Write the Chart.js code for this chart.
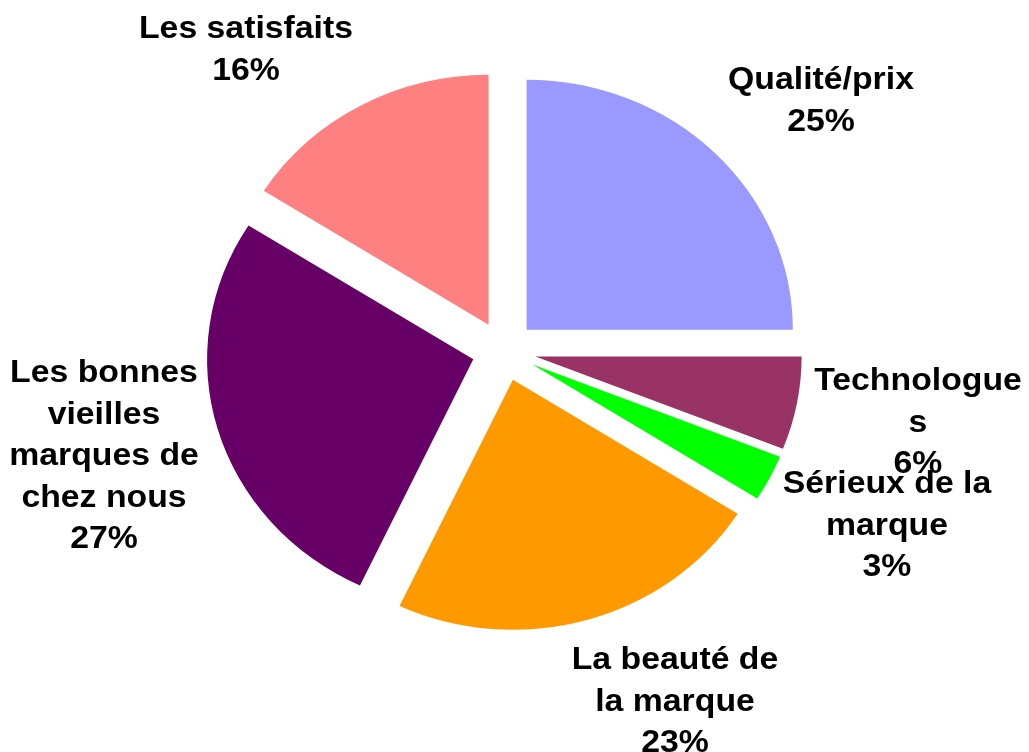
<!DOCTYPE html>
<html lang="fr">
<head>
<meta charset="utf-8">
<title>Pie chart</title>
<script src="https://cdn.jsdelivr.net/npm/chart.js@4.4.1/dist/chart.umd.min.js"></script>
<style>
  html, body { margin: 0; padding: 0; background: #fff; }
  #wrap { width: 1029px; height: 752px; }
</style>
</head>
<body>
<div id="wrap"><canvas id="pieChart"></canvas></div>
<script>
// DATA
const categories = [
    "Qualité/prix",
    "Technologues",
    "Sérieux de la marque",
    "La beauté de la marque",
    "Les bonnes vieilles marques de chez nous",
    "Les satisfaits"
];
const values = [25, 6, 3, 23, 27, 16];
const colors = ["#9999FF", "#993366", "#00FF00", "#FF9900", "#660066", "#FF8080"];

// how the labels wrap in the picture
const labelLines = [
    ["Qualité/prix"],
    ["Technologue", "s"],
    ["Sérieux de la", "marque"],
    ["La beauté de", "la marque"],
    ["Les bonnes", "vieilles", "marques de", "chez nous"],
    ["Les satisfaits"]
];

// LAYOUT
const GAP = 30;             // exploded distance of each slice
const STRETCH = 1.065;      // the pie is a bit wider than tall
const TEXT_STRETCH = 1.09;  // text is stretched the same way
const LINE_H = 41.5;
const labelPos = [[821, 89], [918, 390], [887, 493], [675, 669], [104, 382], [246, 38]];

const total = values.reduce((a, b) => a + b, 0);

// push every slice out along its middle angle (no radius change)
const explode = {
    id: "explode",
    afterDatasetsUpdate(chart) {
        chart.getDatasetMeta(0).data.forEach(arc => {
            const mid = (arc.startAngle + arc.endAngle) / 2;
            arc.x += Math.cos(mid) * GAP;
            arc.y += Math.sin(mid) * GAP;
        });
    }
};

// widen the pie a little, like the original
const ellipse = {
    id: "ellipse",
    beforeDatasetsDraw(chart) {
        const { ctx, chartArea } = chart;
        const cx = (chartArea.left + chartArea.right) / 2;
        const cy = (chartArea.top + chartArea.bottom) / 2;
        ctx.save();
        ctx.translate(cx, cy);
        ctx.scale(STRETCH, 1);
        ctx.translate(-cx, -cy);
    },
    afterDatasetsDraw(chart) {
        chart.ctx.restore();
    }
};

// category + percent labels
const sliceLabels = {
    id: "sliceLabels",
    afterDraw(chart) {
        const ctx = chart.ctx;
        ctx.save();
        ctx.fillStyle = "#000";
        ctx.font = "bold 31px 'Liberation Sans', Arial, sans-serif";
        ctx.textAlign = "center";
        ctx.textBaseline = "alphabetic";
        values.forEach((v, i) => {
            const lines = labelLines[i].concat(Math.round(v / total * 100) + "%");
            const [x, y] = labelPos[i];
            lines.forEach((line, j) => {
                ctx.save();
                ctx.translate(x, y + j * LINE_H);
                ctx.scale(TEXT_STRETCH, 1);
                ctx.fillText(line, 0, 0);
                ctx.restore();
            });
        });
        ctx.restore();
    }
};

new Chart(document.getElementById("pieChart"), {
    type: "pie",
    data: {
        labels: categories,
        datasets: [{
            data: values,
            backgroundColor: colors,
            borderWidth: 0
        }]
    },
    options: {
        responsive: true,
        maintainAspectRatio: false,
        animation: false,
        events: [],
        radius: 250,
        layout: { padding: { left: 0, right: 21, top: 0, bottom: 50 } },
        plugins: {
            legend: { display: false },
            tooltip: { enabled: false }
        }
    },
    plugins: [explode, ellipse, sliceLabels]
});
</script>
</body>
</html>
